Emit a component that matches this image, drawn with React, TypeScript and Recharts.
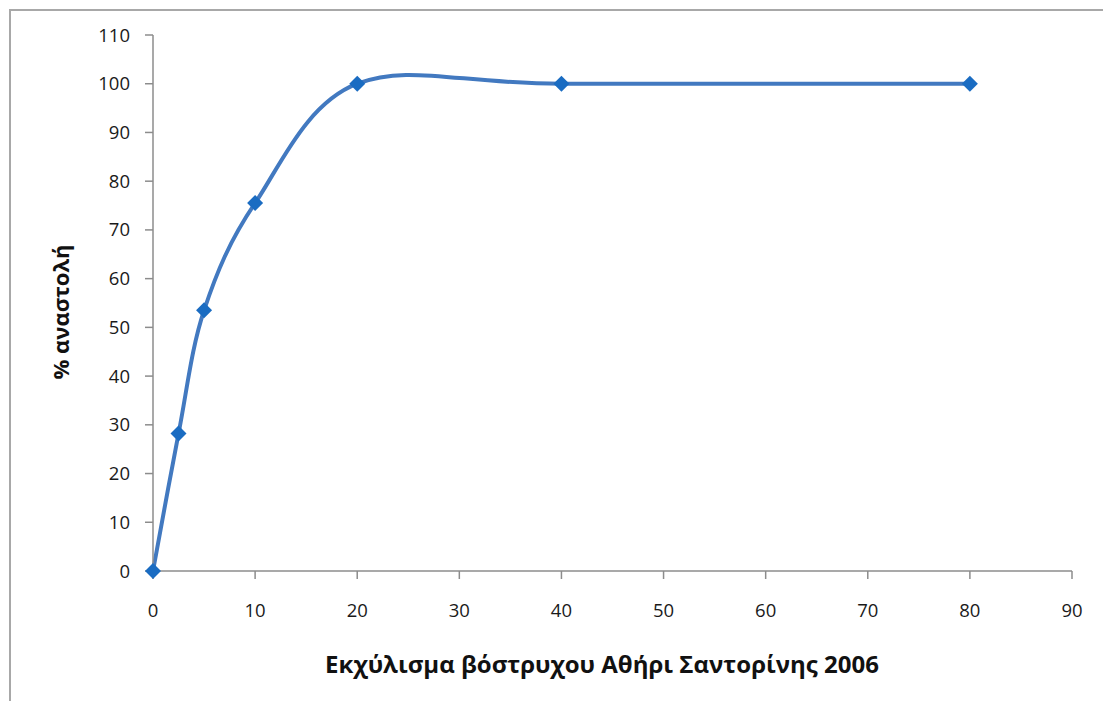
import { LineChart, Line, XAxis, YAxis } from 'recharts';

const extractDose = [0, 2.5, 5, 10, 20, 40, 80];
const inhibition = [0, 28.2, 53.5, 75.5, 100, 100, 100];
const xTicks = [0, 10, 20, 30, 40, 50, 60, 70, 80, 90];
const yTicks = [0, 10, 20, 30, 40, 50, 60, 70, 80, 90, 100, 110];

const data = extractDose.map((x, i) => ({ x, y: inhibition[i] }));

const FONT = '"Open Sans", "Noto Sans", sans-serif';
const LINE = '#4279c0';
const MARK = '#1a6cc2';

// Excel-style smoothed line (cardinal spline through the points)
function excelSmooth(context: any) {
  let pts: number[][] = [];
  return {
    areaStart() {},
    areaEnd() {},
    lineStart() {
      pts = [];
    },
    point(x: number, y: number) {
      pts.push([+x, +y]);
    },
    lineEnd() {
      if (!pts.length) return;
      context.moveTo(pts[0][0], pts[0][1]);
      for (let i = 0; i < pts.length - 1; i++) {
        const p0 = pts[Math.max(i - 1, 0)];
        const p1 = pts[i];
        const p2 = pts[i + 1];
        const p3 = pts[Math.min(i + 2, pts.length - 1)];
        context.bezierCurveTo(
          p1[0] + (p2[0] - p0[0]) / 6,
          p1[1] + (p2[1] - p0[1]) / 6,
          p2[0] - (p3[0] - p1[0]) / 6,
          p2[1] - (p3[1] - p1[1]) / 6,
          p2[0],
          p2[1]
        );
      }
    },
  };
}

function Diamond(props: any) {
  const { cx, cy } = props;
  if (cx == null || cy == null) return null;
  const r = 8;
  return (
    <polygon
      points={`${cx},${cy - r} ${cx + r},${cy} ${cx},${cy + r} ${cx - r},${cy}`}
      fill={MARK}
    />
  );
}

const tickStyle = { fill: '#1a1a1a', fontSize: 18.5, fontFamily: FONT };

export default function App() {
  return (
    <div
      style={{
        position: 'absolute',
        left: 9,
        top: 9,
        width: 1094,
        height: 692,
        borderLeft: '2px solid #a8a8a8',
        borderTop: '2px solid #a8a8a8',
        background: '#fff',
      }}
    >
      <LineChart
        width={1092}
        height={690}
        data={data}
        margin={{ top: 24, right: 31, left: 0, bottom: 0 }}
      >
        <XAxis
          dataKey="x"
          type="number"
          domain={[0, 90]}
          ticks={xTicks}
          height={130}
          tickSize={8}
          tickMargin={25}
          axisLine={{ stroke: '#8c8c8c', strokeWidth: 1.5 }}
          tickLine={{ stroke: '#8c8c8c', strokeWidth: 1.5 }}
          tick={tickStyle}
          label={{
            content: () => (
              <text
                x={591}
                y={652}
                textAnchor="middle"
                dominantBaseline="central"
                fontFamily={FONT}
                fontWeight="bold"
                fontSize={24}
                fill="#111"
              >
                Εκχύλισμα βόστρυχου Αθήρι Σαντορίνης 2006
              </text>
            ),
          }}
        />
        <YAxis
          type="number"
          domain={[0, 110]}
          ticks={yTicks}
          width={142}
          tickSize={8}
          tickMargin={15}
          axisLine={{ stroke: '#8c8c8c', strokeWidth: 1.5 }}
          tickLine={{ stroke: '#8c8c8c', strokeWidth: 1.5 }}
          tick={tickStyle}
          label={{
            content: () => (
              <text
                x={49}
                y={301}
                transform="rotate(-90 49 301)"
                textAnchor="middle"
                dominantBaseline="central"
                fontFamily={FONT}
                fontWeight="bold"
                fontSize={22}
                fill="#111"
              >
                % αναστολή
              </text>
            ),
          }}
        />
        <Line
          dataKey="y"
          type={excelSmooth as any}
          stroke={LINE}
          strokeWidth={4}
          dot={<Diamond />}
          activeDot={false}
          isAnimationActive={false}
        />
      </LineChart>
    </div>
  );
}
